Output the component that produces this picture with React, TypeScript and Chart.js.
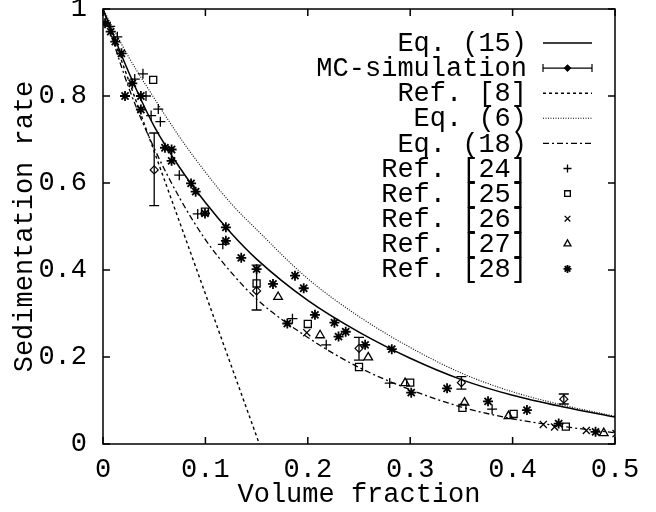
import React, { useEffect, useRef } from 'react';
import { Chart, registerables } from 'chart.js';
import { drawPoint } from 'chart.js/helpers';

Chart.register(...registerables);

// ---- tick values / labels ----
const xTickValues = [0, 0.1, 0.2, 0.3, 0.4, 0.5];
const xTickLabels = ['0', '0.1', '0.2', '0.3', '0.4', '0.5'];
const yTickValues = [0, 0.2, 0.4, 0.6, 0.8, 1];
const yTickLabels = ['0', '0.2', '0.4', '0.6', '0.8', '1'];

// ---- theory curves ----
const curveX = [0, 0.025, 0.05, 0.075, 0.1, 0.125, 0.15, 0.2, 0.25, 0.3, 0.35, 0.4, 0.45, 0.5];
const eq15Y = [1, 0.855, 0.73, 0.635, 0.555, 0.485, 0.425, 0.33, 0.257, 0.197, 0.148, 0.112, 0.085, 0.062];
const eq6Y = [1, 0.89, 0.795, 0.705, 0.625, 0.553, 0.493, 0.38, 0.293, 0.222, 0.163, 0.12, 0.089, 0.064];
const eq18Y = [1, 0.82, 0.68, 0.565, 0.47, 0.395, 0.333, 0.245, 0.176, 0.125, 0.085, 0.058, 0.04, 0.026];
const ref8X = [0, 0.1527];
const ref8Y = [1, 0];

// ---- MC simulation with error bars ----
const mcX = [0.05, 0.15, 0.25, 0.35, 0.45];
const mcY = [0.63, 0.352, 0.22, 0.141, 0.103];
const mcLow = [0.548, 0.308, 0.193, 0.126, 0.092];
const mcHigh = [0.715, 0.411, 0.245, 0.155, 0.115];

// ---- experimental data ----
const ref24X = [0.007, 0.014, 0.031, 0.039, 0.042, 0.047, 0.054, 0.056, 0.0745, 0.0925, 0.117, 0.185, 0.218, 0.28, 0.38];
const ref24Y = [0.96, 0.936, 0.839, 0.851, 0.8, 0.755, 0.77, 0.741, 0.618, 0.529, 0.459, 0.288, 0.228, 0.14, 0.08];

const ref25X = [0.049, 0.0996, 0.15, 0.2, 0.25, 0.3, 0.351, 0.401, 0.452];
const ref25Y = [0.837, 0.534, 0.369, 0.276, 0.177, 0.141, 0.083, 0.069, 0.04];

const ref26X = [0.199, 0.43, 0.441, 0.472, 0.501];
const ref26Y = [0.256, 0.045, 0.039, 0.031, 0.024];

const ref27X = [0.171, 0.212, 0.259, 0.295, 0.353, 0.396, 0.489];
const ref27Y = [0.338, 0.25, 0.199, 0.14, 0.095, 0.064, 0.025];

const ref28X = [0.002, 0.0075, 0.012, 0.018, 0.0215, 0.0286, 0.037, 0.037, 0.0605, 0.067, 0.067, 0.086, 0.0905, 0.0996,
  0.12, 0.12, 0.135, 0.15, 0.166, 0.1875, 0.196, 0.18, 0.207, 0.226, 0.23, 0.237, 0.256, 0.282, 0.301, 0.336, 0.376,
  0.414, 0.445, 0.481];
const ref28Y = [0.967, 0.948, 0.925, 0.898, 0.8, 0.829, 0.8, 0.769, 0.681, 0.677, 0.651, 0.599, 0.58, 0.53,
  0.498, 0.467, 0.428, 0.402, 0.368, 0.387, 0.358, 0.277, 0.297, 0.279, 0.247, 0.258, 0.228, 0.218, 0.118, 0.128, 0.098,
  0.078, 0.047, 0.028];

const legendLabels = ['Eq. (15)', 'MC-simulation', 'Ref. [8]', 'Eq. (6)', 'Eq. (18)', 'Ref. [24]', 'Ref. [25]', 'Ref. [26]', 'Ref. [27]', 'Ref. [28]'];

const FONT = '"Liberation Mono", "DejaVu Sans Mono", monospace';
const FONT_SIZE = 27;

const pts = (xs: number[], ys: number[]) => xs.map((x, i) => ({ x, y: ys[i] }));

const frameAndTicks = {
  id: 'frameAndTicks',
  afterDraw(chart: any) {
    const { ctx, chartArea: a, scales } = chart;
    const xs = scales.x;
    const ys = scales.y;
    ctx.save();
    ctx.strokeStyle = '#000';
    ctx.lineWidth = 1.5;
    ctx.setLineDash([]);
    ctx.strokeRect(a.left, a.top, a.right - a.left, a.bottom - a.top);
    const L = 7;
    ctx.beginPath();
    xTickValues.forEach((v) => {
      const px = xs.getPixelForValue(v);
      ctx.moveTo(px, a.bottom);
      ctx.lineTo(px, a.bottom - L);
      ctx.moveTo(px, a.top);
      ctx.lineTo(px, a.top + L);
    });
    yTickValues.forEach((v) => {
      const py = ys.getPixelForValue(v);
      ctx.moveTo(a.left, py);
      ctx.lineTo(a.left + L, py);
      ctx.moveTo(a.right, py);
      ctx.lineTo(a.right - L, py);
    });
    ctx.stroke();
    ctx.restore();
  },
};

const errorBars = {
  id: 'errorBars',
  afterDatasetsDraw(chart: any) {
    const { ctx, scales } = chart;
    const xs = scales.x;
    const ys = scales.y;
    ctx.save();
    ctx.strokeStyle = '#000';
    ctx.lineWidth = 1.3;
    ctx.setLineDash([]);
    ctx.beginPath();
    mcX.forEach((v, i) => {
      const px = xs.getPixelForValue(v);
      const lo = ys.getPixelForValue(mcLow[i]);
      const hi = ys.getPixelForValue(mcHigh[i]);
      ctx.moveTo(px, lo);
      ctx.lineTo(px, hi);
      ctx.moveTo(px - 5, lo);
      ctx.lineTo(px + 5, lo);
      ctx.moveTo(px - 5, hi);
      ctx.lineTo(px + 5, hi);
    });
    ctx.stroke();
    ctx.restore();
  },
};

const customLegend = {
  id: 'customLegend',
  afterDraw(chart: any) {
    const { ctx } = chart;
    const textRight = 527;
    const x0 = 543;
    const x1 = 592;
    const xm = (x0 + x1) / 2;
    ctx.save();
    ctx.font = `${FONT_SIZE}px ${FONT}`;
    ctx.fillStyle = '#000';
    ctx.textAlign = 'right';
    ctx.textBaseline = 'middle';
    chart.data.datasets.forEach((ds: any, i: number) => {
      const y = 43 + i * 25.1;
      ctx.fillStyle = '#000';
      ctx.fillText(legendLabels[i], textRight, y + 1);
      ctx.strokeStyle = '#000';
      if (ds.showLine) {
        ctx.lineWidth = ds.borderWidth;
        ctx.setLineDash(ds.borderDash || []);
        ctx.beginPath();
        ctx.moveTo(x0, y);
        ctx.lineTo(x1, y);
        ctx.stroke();
      } else if (i === 1) {
        ctx.lineWidth = 1.2;
        ctx.setLineDash([]);
        ctx.beginPath();
        ctx.moveTo(x0, y);
        ctx.lineTo(x1, y);
        ctx.moveTo(x0, y - 4);
        ctx.lineTo(x0, y + 4);
        ctx.moveTo(x1, y - 4);
        ctx.lineTo(x1, y + 4);
        ctx.stroke();
        ctx.fillStyle = '#000';
        drawPoint(ctx, { pointStyle: 'rectRot', radius: 3, rotation: 0, borderWidth: 1 } as any, xm, y);
        ctx.fill();
      } else {
        ctx.setLineDash([]);
        ctx.lineWidth = ds.borderWidth;
        ctx.fillStyle = 'rgba(0,0,0,0)';
        drawPoint(ctx, { pointStyle: ds.pointStyle, radius: ds.pointRadius * 0.8, rotation: 0, borderWidth: ds.borderWidth } as any, xm, y);
      }
    });
    ctx.restore();
  },
};

export default function App() {
  const ref = useRef<HTMLCanvasElement | null>(null);
  useEffect(() => {
    if (!ref.current) return;
    const lineBase = { showLine: true, pointRadius: 0, fill: false, borderColor: '#000', backgroundColor: '#000', tension: 0 };
    const scatterBase = { showLine: false, borderColor: '#000', backgroundColor: 'rgba(0,0,0,0)' };
    const chart = new Chart(ref.current, {
      type: 'scatter',
      data: {
        datasets: [
          { ...lineBase, label: legendLabels[0], data: pts(curveX, eq15Y), borderWidth: 1.5, cubicInterpolationMode: 'monotone' },
          { ...scatterBase, label: legendLabels[1], data: pts(mcX, mcY), pointStyle: 'rectRot', pointRadius: 4, borderWidth: 1.2 },
          { ...lineBase, label: legendLabels[2], data: pts(ref8X, ref8Y), borderWidth: 1.4, borderDash: [3, 3] },
          { ...lineBase, label: legendLabels[3], data: pts(curveX, eq6Y), borderWidth: 1.1, borderDash: [1, 1.5], cubicInterpolationMode: 'monotone' },
          { ...lineBase, label: legendLabels[4], data: pts(curveX, eq18Y), borderWidth: 1.3, borderDash: [6, 3, 2, 3], cubicInterpolationMode: 'monotone' },
          { ...scatterBase, label: legendLabels[5], data: pts(ref24X, ref24Y), pointStyle: 'cross', pointRadius: 5, borderWidth: 1.3 },
          { ...scatterBase, label: legendLabels[6], data: pts(ref25X, ref25Y), pointStyle: 'rect', pointRadius: 5, borderWidth: 1.3 },
          { ...scatterBase, label: legendLabels[7], data: pts(ref26X, ref26Y), pointStyle: 'crossRot', pointRadius: 5, borderWidth: 1.3 },
          { ...scatterBase, label: legendLabels[8], data: pts(ref27X, ref27Y), pointStyle: 'triangle', pointRadius: 5, borderWidth: 1.3 },
          { ...scatterBase, label: legendLabels[9], data: pts(ref28X, ref28Y), pointStyle: 'star', pointRadius: 5, borderWidth: 1.8 },
        ] as any,
      },
      options: {
        animation: false,
        responsive: false,
        devicePixelRatio: 1,
        layout: { padding: { top: 9, right: 41, left: 0, bottom: 0 } },
        plugins: { legend: { display: false }, tooltip: { enabled: false } },
        scales: {
          x: {
            type: 'linear',
            min: 0,
            max: 0.5,
            grid: { display: false, drawTicks: false },
            border: { display: false },
            afterBuildTicks: (s: any) => { s.ticks = xTickValues.map((v) => ({ value: v })); },
            afterFit: (s: any) => { s.height = 68; s.paddingLeft = 0; s.paddingRight = 0; },
            ticks: {
              padding: 10,
              color: '#000',
              font: { family: FONT, size: FONT_SIZE },
              maxRotation: 0,
              callback: (_v: any, i: number) => xTickLabels[i],
            },
            title: { display: true, text: 'Volume fraction', color: '#000', font: { family: FONT, size: FONT_SIZE }, padding: { top: 0, bottom: 1 } },
          },
          y: {
            type: 'linear',
            min: 0,
            max: 1,
            grid: { display: false, drawTicks: false },
            border: { display: false },
            afterBuildTicks: (s: any) => { s.ticks = yTickValues.map((v) => ({ value: v })); },
            afterFit: (s: any) => { s.width = 103; s.paddingTop = 0; s.paddingBottom = 0; },
            ticks: {
              padding: 16,
              color: '#000',
              font: { family: FONT, size: FONT_SIZE },
              callback: (_v: any, i: number) => yTickLabels[i],
            },
            title: { display: true, text: 'Sedimentation rate', color: '#000', font: { family: FONT, size: FONT_SIZE }, padding: { top: 9, bottom: 0 } },
          },
        },
      } as any,
      plugins: [errorBars, frameAndTicks, customLegend],
    });
    return () => chart.destroy();
  }, []);
  return (
    <div style={{ position: 'fixed', left: 0, top: 0, width: 656, height: 512, background: '#fff' }}>
      <canvas ref={ref} width={656} height={512} />
    </div>
  );
}
